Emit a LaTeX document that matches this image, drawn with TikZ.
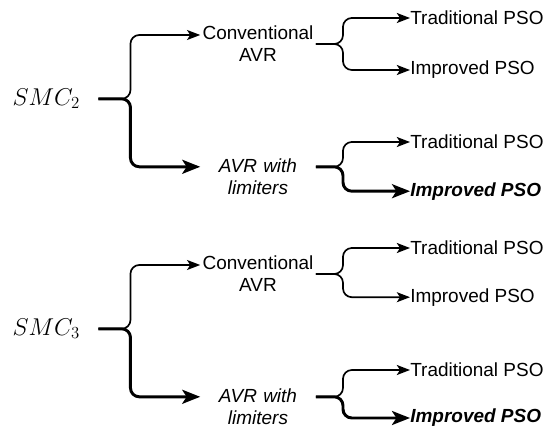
\documentclass[tikz,border=0pt]{standalone}
\usepackage{fontspec}
\setmainfont{Liberation Sans}
\usetikzlibrary{arrows.meta,positioning}

\tikzset{
  smc/.style={inner xsep=0.45cm, font=\fontsize{17}{20}\selectfont},
  avr/.style={text width=2.875cm, align=center, inner xsep=0pt, font=\fontsize{13.5}{15.6}\selectfont},
  pso/.style={anchor=west, inner sep=0pt, font=\fontsize{13.5}{15.6}\selectfont},
  branch/.style={line width=1.2pt, rounded corners=0.22cm, -{Stealth[length=0.33cm,width=0.25cm,inset=0.08cm]}},
  boldbranch/.style={line width=2.1pt, rounded corners=0.22cm, -{Stealth[length=0.45cm,width=0.35cm,inset=0.11cm]}}
}

\begin{document}
\begin{tikzpicture}
            \useasboundingbox (0,0) rectangle (13.925,-10.75);

            % first controller
            \node[smc] (smc2) at (1.16, -2.47) {$SMC_2$};
            \node[avr] (conv2) at (6.45, -1.1) {Conventional\\AVR};
            \node[avr] (avr2) at (6.45, -4.41) {\textit{AVR with}\\\textit{limiters}};
            \node[pso] (trad2a) at (10.25, -0.45) {Traditional PSO};
            \node[pso] (imp2a) at (10.25, -1.75) {Improved PSO};
            \node[pso] (trad2b) at (10.25, -3.55) {Traditional PSO};
            \node[pso] (imp2b) at (10.25, -4.78) {\textbf{\textit{Improved PSO}}};

            \draw[branch] (smc2.east) -- ++(0.8,0) |- ([yshift=0.225cm]conv2.west);
            \draw[boldbranch] (smc2.east) -- ++(0.8,0) |- ([yshift=0.24cm]avr2.west);
            \draw[branch] (conv2.east) -- ++(0.68,0) |- (trad2a.west);
            \draw[branch] (conv2.east) -- ++(0.68,0) |- (imp2a.west);
            \draw[branch] ([yshift=0.24cm]avr2.east) -- ++(0.68,0) |- (trad2b.west);
            \draw[boldbranch] ([yshift=0.24cm]avr2.east) -- ++(0.68,0) |- (imp2b.west);

            % second controller
            \node[smc] (smc3) at (1.16, -8.22) {$SMC_3$};
            \node[avr] (conv3) at (6.45, -6.85) {Conventional\\AVR};
            \node[avr] (avr3) at (6.45, -10.16) {\textit{AVR with}\\\textit{limiters}};
            \node[pso] (trad3a) at (10.25, -6.2) {Traditional PSO};
            \node[pso] (imp3a) at (10.25, -7.43) {Improved PSO};
            \node[pso] (trad3b) at (10.25, -9.25) {Traditional PSO};
            \node[pso] (imp3b) at (10.25, -10.45) {\textbf{\textit{Improved PSO}}};

            \draw[branch] (smc3.east) -- ++(0.8,0) |- ([yshift=0.225cm]conv3.west);
            \draw[boldbranch] (smc3.east) -- ++(0.8,0) |- ([yshift=0.24cm]avr3.west);
            \draw[branch] (conv3.east) -- ++(0.68,0) |- (trad3a.west);
            \draw[branch] (conv3.east) -- ++(0.68,0) |- (imp3a.west);
            \draw[branch] ([yshift=0.24cm]avr3.east) -- ++(0.68,0) |- (trad3b.west);
            \draw[boldbranch] ([yshift=0.24cm]avr3.east) -- ++(0.68,0) |- (imp3b.west);

        \end{tikzpicture}
\end{document}
